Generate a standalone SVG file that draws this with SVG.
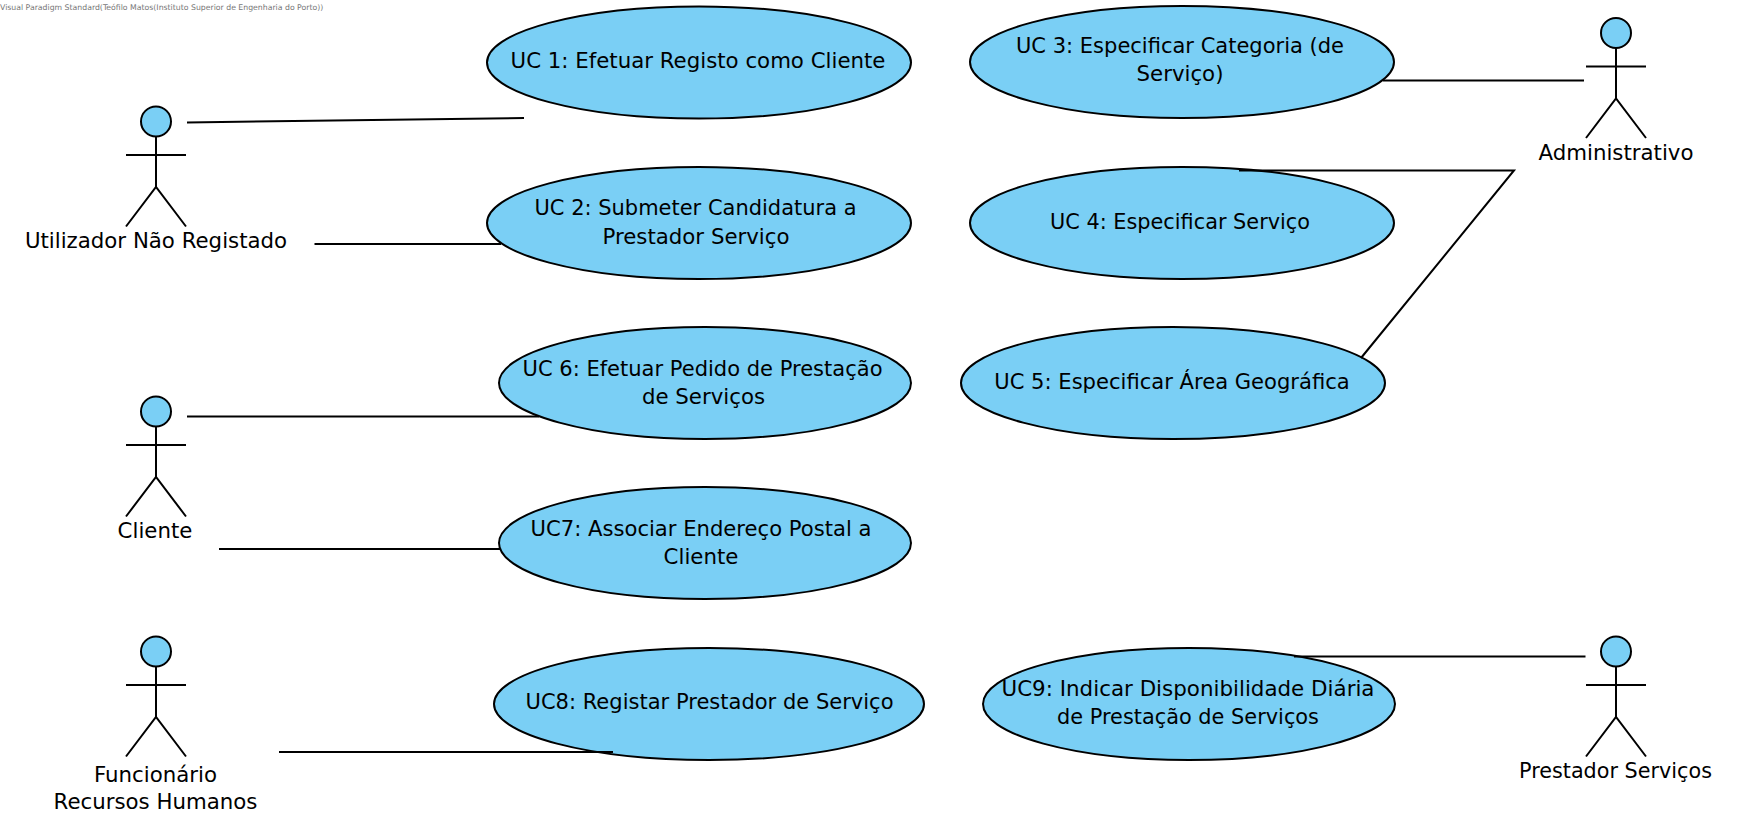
<svg xmlns="http://www.w3.org/2000/svg" width="1742" height="830" viewBox="0 0 1742 830">
<style>
.uc{fill:#7acff5;stroke:#000;stroke-width:2}
.head{fill:#7acff5;stroke:#000;stroke-width:2}
.fig{fill:none;stroke:#000;stroke-width:2}
.conn{fill:none;stroke:#000;stroke-width:2}
text{font-family:"DejaVu Sans",sans-serif;font-size:21.300px;fill:#000;text-anchor:middle}
.wm{font-size:7.750px;fill:#777;text-anchor:start}
</style>
<defs>
<g id="fig"><circle class="head" cx="0" cy="0" r="15"/><path class="fig" d="M0 15V65.500M-30 33.500H30M-30 105L0 65.500L30 105"/></g>
</defs>
<rect width="1742" height="830" fill="#fff"/>
<text class="wm" x="0" y="10">Visual Paradigm Standard(Teófilo Matos(Instituto Superior de Engenharia do Porto))</text>
<g id="uc1"><ellipse class="uc" cx="699" cy="62.500" rx="212" ry="56"/><text x="698" y="68">UC 1: Efetuar Registo como Cliente</text></g>
<g id="uc2"><ellipse class="uc" cx="699" cy="223" rx="212" ry="56"/><text x="695.500" y="215" textLength="322" lengthAdjust="spacingAndGlyphs">UC 2: Submeter Candidatura a</text><text x="696" y="244">Prestador Serviço</text></g>
<g id="uc3"><ellipse class="uc" cx="1182" cy="62" rx="212" ry="56"/><text x="1180" y="53" textLength="328" lengthAdjust="spacingAndGlyphs">UC 3: Especificar Categoria (de</text><text x="1180" y="81">Serviço)</text></g>
<g id="uc4"><ellipse class="uc" cx="1182" cy="223" rx="212" ry="56"/><text x="1180" y="229" textLength="260" lengthAdjust="spacingAndGlyphs">UC 4: Especificar Serviço</text></g>
<g id="uc5"><ellipse class="uc" cx="1173" cy="383" rx="212" ry="56"/><text x="1172" y="389" textLength="355.500" lengthAdjust="spacingAndGlyphs">UC 5: Especificar Área Geográfica</text></g>
<g id="uc6"><ellipse class="uc" cx="705" cy="383" rx="206" ry="56"/><text x="702.500" y="375.500" textLength="360" lengthAdjust="spacingAndGlyphs">UC 6: Efetuar Pedido de Prestação</text><text x="703.500" y="403.500">de Serviços</text></g>
<g id="uc7"><ellipse class="uc" cx="705" cy="543" rx="206" ry="56"/><text x="701" y="535.500" textLength="341" lengthAdjust="spacingAndGlyphs">UC7: Associar Endereço Postal a</text><text x="701" y="564">Cliente</text></g>
<g id="uc8"><ellipse class="uc" cx="709" cy="704" rx="215" ry="56"/><text x="709.500" y="709" textLength="368" lengthAdjust="spacingAndGlyphs">UC8: Registar Prestador de Serviço</text></g>
<g id="uc9"><ellipse class="uc" cx="1189" cy="704" rx="206" ry="56"/><text x="1188" y="696" textLength="373" lengthAdjust="spacingAndGlyphs">UC9: Indicar Disponibilidade Diária</text><text x="1188" y="724" textLength="262" lengthAdjust="spacingAndGlyphs">de Prestação de Serviços</text></g>
<g id="actor-utilizador"><use href="#fig" x="156" y="121.500"/><text x="156" y="248">Utilizador Não Registado</text></g>
<g id="actor-cliente"><use href="#fig" x="156" y="411.500"/><text x="155" y="538">Cliente</text></g>
<g id="actor-funcionario"><use href="#fig" x="156" y="651.500"/><text x="155.500" y="782">Funcionário</text><text x="155.500" y="809">Recursos Humanos</text></g>
<g id="actor-administrativo"><use href="#fig" x="1616" y="33"/><text x="1616" y="160">Administrativo</text></g>
<g id="actor-prestador"><use href="#fig" x="1616" y="651.500"/><text x="1615.500" y="778" textLength="193" lengthAdjust="spacingAndGlyphs">Prestador Serviços</text></g>
<g id="connectors">
<path class="conn" d="M187 122.500L524 118"/>
<path class="conn" d="M314.500 244H501"/>
<path class="conn" d="M187 416.500H539"/>
<path class="conn" d="M219 549H500"/>
<path class="conn" d="M279 752H613"/>
<path class="conn" d="M1383 80.500H1584"/>
<path class="conn" d="M1239 170.500H1514L1361 358"/>
<path class="conn" d="M1294 656.500H1585.500"/>
</g>
</svg>
